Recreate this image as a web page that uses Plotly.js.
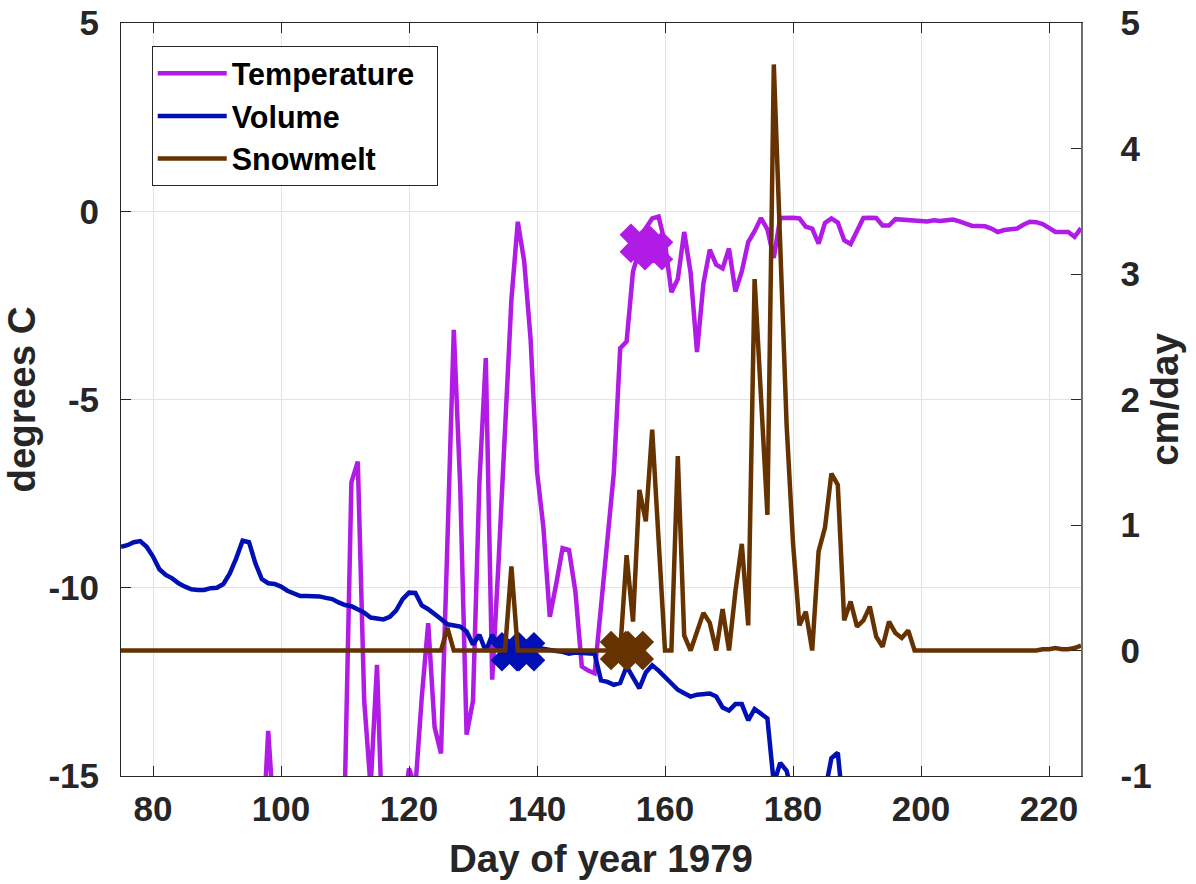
<!DOCTYPE html>
<html>
<head>
<meta charset="utf-8">
<script src="https://cdn.plot.ly/plotly-3.0.1.min.js"></script>
<style>html,body{margin:0;padding:0;background:#fff;}#chart{width:1196px;height:884px;}</style>
</head>
<body>
<div id="chart"></div>
<script>
// Day of year (1979), one value per day
const days = [];
for (let d = 75; d <= 225; d++) days.push(d);

// Air temperature, degrees C (values below -15 run off the bottom of the axis)
const temperature = [
  -21, -22, -20, -19, -21, -23, -22, -20, -19, -18,   // 75-84
  -20, -22, -21, -19, -18, -20, -21, -19, -18, -19,   // 85-94
  -20, -18, -17.1, -13.8, -17.2, -19, -20, -18, -17, -18, // 95-104
  -19, -20, -18, -17, -16.5, -15.2, -7.2, -6.65, -13.0, -15.3, // 105-114
  -12.05, -17.3, -18, -17, -16, -14.8, -15.3, -12.9, -10.94, -13.7, // 115-124
  -14.4, -8.8, -3.15, -7.3, -13.9, -13.0, -7.2, -3.9, -12.44, -9.3, // 125-134
  -5.8, -2.35, -0.28, -1.33, -3.4, -6.9, -8.4, -10.77, -9.9, -8.95, // 135-144
  -9.0, -10.1, -12.09, -12.2, -12.27, -10.5, -8.7, -6.96, -3.64, -3.46, // 145-154
  -1.6, -1.0, -0.45, -0.19, -0.14, -0.85, -2.15, -1.8, -0.55, -1.63, // 155-164
  -3.74, -1.92, -1.02, -1.42, -1.52, -0.99, -2.13, -1.6, -0.82, -0.53, // 165-174
  -0.18, -0.48, -1.24, -0.18, -0.17, -0.17, -0.19, -0.41, -0.46, -0.86, // 175-184
  -0.31, -0.19, -0.3, -0.77, -0.87, -0.5, -0.18, -0.17, -0.18, -0.38, // 185-194
  -0.38, -0.21, -0.22, -0.23, -0.25, -0.27, -0.27, -0.24, -0.26, -0.24, // 195-204
  -0.22, -0.27, -0.33, -0.39, -0.39, -0.4, -0.46, -0.55, -0.5, -0.47, // 205-214
  -0.46, -0.36, -0.28, -0.29, -0.34, -0.44, -0.55, -0.55, -0.55, -0.68, // 215-224
  -0.45                                                                 // 225
];

// Volume (plotted on the left axis scale)
const volume = [
  -8.91, -8.87, -8.79, -8.76, -8.91, -9.17, -9.51, -9.66, -9.75, -9.88, // 75-84
  -9.97, -10.04, -10.06, -10.06, -10.01, -10.0, -9.9, -9.62, -9.22, -8.75, // 85-94
  -8.79, -9.35, -9.77, -9.88, -9.9, -9.97, -10.08, -10.14, -10.22, -10.22, // 95-104
  -10.21, -10.23, -10.27, -10.3, -10.39, -10.46, -10.49, -10.56, -10.66, -10.79, // 105-114
  -10.82, -10.84, -10.77, -10.6, -10.3, -10.13, -10.14, -10.47, -10.57, -10.69, // 115-124
  -10.83, -10.97, -11.0, -11.03, -11.16, -11.51, -11.25, -11.69, -11.25, -11.56, // 125-134
  -11.6, -11.62, -11.6, -11.56, -11.56, -11.6, -11.62, -11.65, -11.68, -11.7, // 135-144
  -11.75, -11.72, -11.73, -11.74, -11.75, -12.46, -12.5, -12.58, -12.53, -12.09, // 145-154
  -12.4, -12.67, -12.25, -12.06, -12.2, -12.36, -12.55, -12.71, -12.8, -12.89, // 155-164
  -12.84, -12.82, -12.81, -12.89, -13.18, -13.26, -13.09, -13.09, -13.52, -13.22, // 165-174
  -13.34, -13.47, -15.2, -14.65, -14.86, -15.6, -16.2, -16.5, -16.4, -16.0, // 175-184
  -15.4, -14.53, -14.38, -16.1, -16.8, -17.2, -17.4, -17.6, -17.5, -17.8, // 185-194
  -18.0, -18.1, -18.0, -18.2, -18.4, -18.5, -18.6, -18.6, -18.8, -18.9, // 195-204
  -19.0, -19.1, -19.1, -19.2, -19.3, -19.4, -19.5, -19.5, -19.6, -19.7, // 205-214
  -19.8, -19.8, -19.9, -20.0, -20.1, -20.1, -20.2, -20.3, -20.3, -20.4, // 215-224
  -20.5                                                                  // 225
];

// Snowmelt, cm/day (right axis)
const snowmelt = [
  0, 0, 0, 0, 0, 0, 0, 0, 0, 0,            // 75-84
  0, 0, 0, 0, 0, 0, 0, 0, 0, 0,            // 85-94
  0, 0, 0, 0, 0, 0, 0, 0, 0, 0,            // 95-104
  0, 0, 0, 0, 0, 0, 0, 0, 0, 0,            // 105-114
  0, 0, 0, 0, 0, 0, 0, 0, 0, 0,            // 115-124
  0, 0.18, 0, 0, 0, 0, 0, 0, 0, 0,         // 125-134
  0, 0.67, 0, 0, 0, 0, 0, 0, 0, 0,         // 135-144
  0, 0, 0, 0, 0, 0, 0, 0, 0, 0.76,         // 145-154
  0.23, 1.28, 1.03, 1.76, 0.9, 0, 0, 1.55, 0.12, 0, // 155-164
  0.15, 0.3, 0.22, 0, 0.33, 0, 0.47, 0.85, 0.2, 2.96, // 165-174
  2.02, 1.08, 4.67, 3.1, 1.8, 0.86, 0.2, 0.31, 0, 0.79, // 175-184
  0.98, 1.41, 1.32, 0.24, 0.39, 0.19, 0.24, 0.35, 0.11, 0.03, // 185-194
  0.23, 0.14, 0.1, 0.16, 0, 0, 0, 0, 0, 0, // 195-204
  0, 0, 0, 0, 0, 0, 0, 0, 0, 0,            // 205-214
  0, 0, 0, 0, 0.01, 0.01, 0.02, 0.01, 0.01, 0.02, // 215-224
  0.04                                      // 225
];

// Event markers
const tempMarkDays = [156.0, 158.2];
const tempMarkVals = [-0.85, -1.05];
const volMarkDays = [135.85, 138.2];
const volMarkVals = [-11.7, -11.7];
const snowMarkDays = [152.9, 155.2];
const snowMarkVals = [0.0, 0.0];

// Ticks
const xTickVals = [80, 100, 120, 140, 160, 180, 200, 220];
const xTickText = ['80', '100', '120', '140', '160', '180', '200', '220'];
const yTickVals = [-15, -10, -5, 0, 5];
const yTickText = ['-15', '-10', '-5', '0', '5'];
const y2TickVals = [-1, 0, 1, 2, 3, 4, 5];
const y2TickText = ['-1', '0', '1', '2', '3', '4', '5'];

// Legend labels (trailing no-break spaces widen the box like the original)
const seriesNames = ['Temperature\u00a0\u00a0', 'Volume', 'Snowmelt'];

const cTemp = '#b11be6';
const cVol = '#0010b4';
const cSnow = '#663300';
const fontFam = 'Liberation Sans, Arial, Helvetica, sans-serif';
const txt = '#262626';
const lw = 4.5;
const mSize = 30;
const mLine = 4;

const traces = [
  {x: days, y: temperature, type: 'scatter', mode: 'lines', name: seriesNames[0],
   line: {color: cTemp, width: lw}, yaxis: 'y'},
  {x: days, y: volume, type: 'scatter', mode: 'lines', name: seriesNames[1],
   line: {color: cVol, width: lw}, yaxis: 'y'},
  {x: days, y: snowmelt, type: 'scatter', mode: 'lines', name: seriesNames[2],
   line: {color: cSnow, width: lw}, yaxis: 'y2'},
  {x: tempMarkDays, y: tempMarkVals, type: 'scatter', mode: 'markers', showlegend: false,
   marker: {symbol: 'x', size: mSize, color: cTemp, line: {width: mLine, color: cTemp}}, yaxis: 'y'},
  {x: volMarkDays, y: volMarkVals, type: 'scatter', mode: 'markers', showlegend: false,
   marker: {symbol: 'x', size: mSize, color: cVol, line: {width: mLine, color: cVol}}, yaxis: 'y'},
  {x: snowMarkDays, y: snowMarkVals, type: 'scatter', mode: 'markers', showlegend: false,
   marker: {symbol: 'x', size: mSize, color: cSnow, line: {width: mLine, color: cSnow}}, yaxis: 'y2'}
];

const tickFont = {family: fontFam, size: 35, color: txt, weight: 'bold'};
const titleFont = {family: fontFam, size: 38.5, color: txt, weight: 'bold'};

const layout = {
  width: 1196, height: 884,
  margin: {l: 121, r: 115, t: 23, b: 108, pad: 0},
  paper_bgcolor: '#fff', plot_bgcolor: '#fff',
  showlegend: true,
  legend: {
    x: 0.032, y: 0.9695, xanchor: 'left', yanchor: 'top',
    bgcolor: '#fff', bordercolor: txt, borderwidth: 1,
    font: {family: fontFam, size: 30.5, color: '#000', weight: 'bold'},
    itemwidth: 69, tracegroupgap: 0
  },
  xaxis: {
    range: [75, 225], tickvals: xTickVals, ticktext: xTickText,
    ticks: 'inside', ticklen: 10, tickwidth: 1, tickcolor: txt,
    showline: true, linecolor: txt, linewidth: 1, mirror: 'ticks',
    showgrid: true, gridcolor: '#e3e3e3', gridwidth: 1, zeroline: false,
    tickfont: tickFont, ticklabelstandoff: 2,
    title: {text: 'Day of year 1979', font: titleFont, standoff: 18},
    automargin: false
  },
  yaxis: {
    range: [-15, 5], tickvals: yTickVals, ticktext: yTickText,
    ticks: 'inside', ticklen: 10, tickwidth: 1, tickcolor: txt,
    showline: true, linecolor: txt, linewidth: 1,
    showgrid: true, gridcolor: '#e3e3e3', gridwidth: 1, zeroline: false,
    tickfont: tickFont, ticklabelstandoff: 14,
    title: {text: 'degrees C', font: titleFont, standoff: 0},
    automargin: false
  },
  yaxis2: {
    range: [-1, 5], tickvals: y2TickVals, ticktext: y2TickText,
    overlaying: 'y', side: 'right', anchor: 'x',
    ticks: 'inside', ticklen: 10, tickwidth: 1, tickcolor: txt,
    showline: true, linecolor: '#6e6e6e', linewidth: 1.5,
    showgrid: false, zeroline: false,
    tickfont: tickFont, ticklabelstandoff: 31,
    title: {text: 'cm/day', font: titleFont, standoff: 0},
    automargin: false
  }
};

Plotly.newPlot('chart', traces, layout, {displayModeBar: false, staticPlot: true});
</script>
</body>
</html>
